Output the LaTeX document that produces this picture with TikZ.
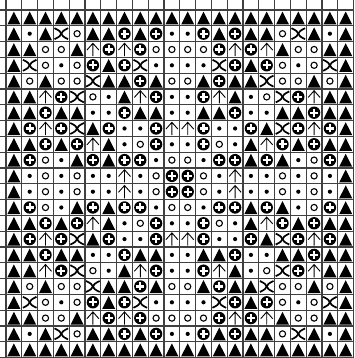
\documentclass[tikz,border=0pt]{standalone}
\newcommand\gT{\fill (-6.5,-6.6) -- (6.5,-6.6) -- (0,6.3) -- cycle;}
\newcommand\gD{\fill (0,0) circle (2.1);}
\newcommand\gO{\draw[line width=1.1] (0,0) circle (3.1);}
\newcommand\gP{\fill (0,0) circle (6.2); \draw[white,line width=2.1] (-4,0) -- (4,0) (0,-4) -- (0,4);}
\newcommand\gX{\draw[line width=1.7] (-6.8,5.5) .. controls (2.2,1.2) and (2.2,-1.2) .. (-6.8,-5.5); \draw[line width=1.7] (6.8,5.5) .. controls (-2.2,1.2) and (-2.2,-1.2) .. (6.8,-5.5);}
\newcommand\gA{\draw[line width=0.9] (0,-6.6) -- (0,6.2) (-6,-0.6) -- (0,6.2) -- (6,-0.6);}
\tikzset{gridline/.style={draw=black!75,line width=1.1}}
\begin{document}
\begin{tikzpicture}[x=1pt,y=1pt]
\useasboundingbox (0,0) rectangle (354,358);
\fill[white] (0,0) rectangle (354,358);
\foreach \k in {0,...,22} {
  \draw[gridline] ({6+15.8*\k},0) -- ({6+15.8*\k},358);
  \draw[gridline] (0,{348-15.8*\k}) -- (354,{348-15.8*\k});
}
\foreach \rowlist [count=\r] in {
 {T,T,T,T,T,T,T,T,T,T,T},
 {T,D,T,X,O,T,T,P,T,P,D},
 {T,T,O,O,T,A,P,A,P,O,O},
 {T,X,O,D,O,P,T,P,X,D,D},
 {T,O,T,O,O,X,T,T,P,T,O},
 {T,T,A,P,X,O,D,T,A,P,D},
 {T,T,P,T,T,D,D,P,T,T,D},
 {T,P,A,P,X,T,P,D,D,P,A},
 {T,T,P,T,P,A,T,D,O,P,D},
 {T,P,O,D,T,P,T,P,P,D,O},
 {T,D,O,D,O,D,D,A,D,O,P}} {
  \foreach \s [count=\c] in \rowlist {
    \pgfmathtruncatemacro\cc{23-\c}
    \pgfmathtruncatemacro\rr{23-\r}
    \foreach \R/\C in {\r/\c,\r/\cc,\rr/\c,\rr/\cc} {
      \begin{scope}[shift={({6+15.8*(\C-0.5)},{348-15.8*(\R-0.5)})}]
        \csname g\s\endcsname
      \end{scope}
    }
  }
}
\end{tikzpicture}
\end{document}
